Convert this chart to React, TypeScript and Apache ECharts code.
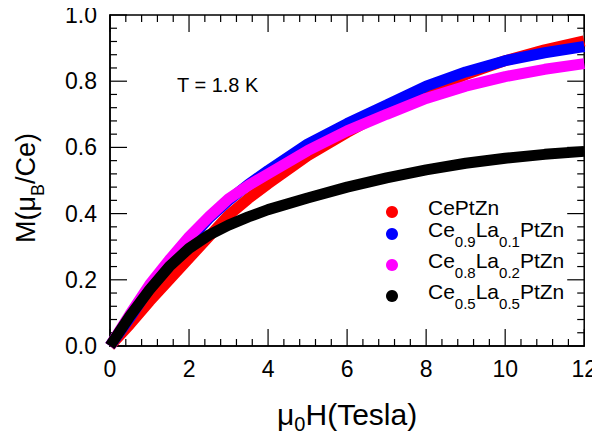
import React, { useEffect, useRef } from "react";
import * as echarts from "echarts";

// Applied field (T) at which each magnetisation value is taken
const fieldT = [0, 0.5, 1, 1.5, 2, 2.5, 3, 3.5, 4, 5, 6, 7, 8, 9, 10, 11, 12];

// Magnetisation M (μB/Ce) at T = 1.8 K
const mCePtZn = [0, 0.065, 0.135, 0.2, 0.265, 0.33, 0.395, 0.445, 0.49, 0.575, 0.645, 0.71, 0.77, 0.82, 0.862, 0.895, 0.922];
const mLa01 = [0, 0.085, 0.175, 0.25, 0.32, 0.385, 0.44, 0.488, 0.53, 0.61, 0.672, 0.728, 0.785, 0.828, 0.862, 0.886, 0.905];
const mLa02 = [0, 0.095, 0.185, 0.26, 0.33, 0.39, 0.445, 0.485, 0.52, 0.59, 0.65, 0.7, 0.748, 0.785, 0.814, 0.836, 0.853];
const mLa05 = [0, 0.09, 0.17, 0.24, 0.295, 0.335, 0.365, 0.39, 0.412, 0.447, 0.48, 0.508, 0.532, 0.552, 0.567, 0.579, 0.588];

const seriesNames = ["CePtZn", "Ce0.9La0.1PtZn", "Ce0.8La0.2PtZn", "Ce0.5La0.5PtZn"];
const seriesColors = ["#000000", "#ff0000", "#0000ff", "#ff00ff"];
const seriesValues = [mCePtZn, mLa01, mLa02, mLa05];

// Axis ranges and major tick values; each major interval holds 4 minor ticks
const xMajorTicks = [0, 2, 4, 6, 8, 10, 12];
const yMajorTicks = [0, 0.2, 0.4, 0.6, 0.8, 1.0];
const MINOR_DIVISIONS = 5;

// Legend labels with subscripted stoichiometry
const legendLabels: Record<string, string> = {
  "CePtZn": "{g|}{n|CePtZn}",
  "Ce0.9La0.1PtZn": "{g|}{n|Ce}{s|0.9}{n|La}{s|0.1}{n|PtZn}",
  "Ce0.8La0.2PtZn": "{g|}{n|Ce}{s|0.8}{n|La}{s|0.2}{n|PtZn}",
  "Ce0.5La0.5PtZn": "{g|}{n|Ce}{s|0.5}{n|La}{s|0.5}{n|PtZn}",
};

const FONT = "Liberation Sans, Arial, Helvetica, sans-serif";
const MAJOR_LEN = 17;
const MINOR_LEN = 7;

// Tick marks for all four frame sides: [isYAxis, value, lengthPx]
function tickItems(majors: number[], isY: number): number[][] {
  const items: number[][] = [];
  majors.forEach((v, i) => {
    items.push([isY, v, MAJOR_LEN]);
    if (i < majors.length - 1) {
      const step = (majors[i + 1] - v) / MINOR_DIVISIONS;
      for (let k = 1; k < MINOR_DIVISIONS; k++) items.push([isY, v + k * step, MINOR_LEN]);
    }
  });
  return items;
}

export default function App() {
  const ref = useRef<HTMLDivElement>(null);

  useEffect(() => {
    if (!ref.current) return;
    const chart = echarts.init(ref.current, undefined, { renderer: "svg" });

    const xMin = xMajorTicks[0];
    const xMax = xMajorTicks[xMajorTicks.length - 1];
    const yMin = yMajorTicks[0];
    const yMax = yMajorTicks[yMajorTicks.length - 1];

    const tickStyle = { stroke: "#000", lineWidth: 1.2 };
    const yTitle = { fill: "#000", fontFamily: FONT, verticalAlign: "middle", align: "left" };

    chart.setOption({
      animation: false,
      backgroundColor: "#fff",
      color: seriesColors,
      textStyle: { fontFamily: FONT },
      grid: {
        left: 110, right: 13, top: 15, bottom: 90,
        show: true, borderColor: "#000", borderWidth: 1.5, backgroundColor: "transparent",
      },
      xAxis: {
        type: "value",
        min: xMin,
        max: xMax,
        interval: 2,
        axisLine: { show: true, onZero: false, lineStyle: { color: "#000", width: 1.5 } },
        axisTick: { show: false },
        minorTick: { show: false },
        splitLine: { show: false },
        axisLabel: { color: "#000", fontSize: 23, margin: 11 },
        name: "{a|μ}{s|0}{a|H(Tesla)}",
        nameLocation: "middle",
        nameGap: 53,
        nameTextStyle: {
          rich: {
            a: { fontSize: 30, color: "#000", lineHeight: 35, verticalAlign: "top" },
            s: { fontSize: 20, color: "#000", verticalAlign: "bottom" },
          },
        },
      },
      yAxis: {
        type: "value",
        min: yMin,
        max: yMax,
        interval: 0.2,
        axisLine: { show: true, onZero: false, lineStyle: { color: "#000", width: 1.5 } },
        axisTick: { show: false },
        minorTick: { show: false },
        splitLine: { show: false },
        axisLabel: { color: "#000", fontSize: 23, margin: 13, formatter: (v: number) => v.toFixed(1) },
      },
      legend: {
        orient: "vertical",
        left: 386,
        top: 197,
        padding: 0,
        itemGap: 1,
        itemWidth: 12,
        itemHeight: 12,
        icon: "circle",
        data: seriesNames,
        formatter: (name: string) => legendLabels[name],
        textStyle: {
          rich: {
            g: { width: 25, height: 30 },
            n: { fontSize: 21, color: "#000", lineHeight: 22, verticalAlign: "top" },
            s: { fontSize: 15, color: "#000", lineHeight: 18, verticalAlign: "bottom" },
          },
        },
      },
      graphic: [
        {
          type: "text",
          left: 177,
          top: 75,
          style: { text: "T = 1.8 K", fontSize: 20, fontFamily: FONT, fill: "#000" },
        },
        {
          // vertical axis title M(μB/Ce), reading bottom to top
          type: "group",
          x: 26,
          y: 243,
          rotation: Math.PI / 2,
          children: [
            { type: "text", x: 0, y: 0, style: { ...yTitle, text: "M(μ", fontSize: 27 } },
            { type: "text", x: 47, y: 12, style: { ...yTitle, text: "B", fontSize: 18 } },
            { type: "text", x: 59, y: 0, style: { ...yTitle, text: "/Ce)", fontSize: 27 } },
          ],
        },
      ],
      series: [
        {
          // inward major/minor ticks on the bottom/top and left/right frame sides
          type: "custom",
          silent: true,
          clip: false,
          data: [...tickItems(xMajorTicks, 0), ...tickItems(yMajorTicks, 1)],
          renderItem: (_params: any, api: any) => {
            const isY = api.value(0);
            const v = api.value(1);
            const len = api.value(2);
            if (!isY) {
              const b = api.coord([v, yMin]);
              const t = api.coord([v, yMax]);
              return {
                type: "group",
                children: [
                  { type: "line", shape: { x1: b[0], y1: b[1], x2: b[0], y2: b[1] - len }, style: tickStyle },
                  { type: "line", shape: { x1: t[0], y1: t[1], x2: t[0], y2: t[1] + len }, style: tickStyle },
                ],
              };
            }
            const l = api.coord([xMin, v]);
            const r = api.coord([xMax, v]);
            return {
              type: "group",
              children: [
                { type: "line", shape: { x1: l[0], y1: l[1], x2: l[0] + len, y2: l[1] }, style: tickStyle },
                { type: "line", shape: { x1: r[0], y1: r[1], x2: r[0] - len, y2: r[1] }, style: tickStyle },
              ],
            };
          },
        },
        ...seriesNames.map((name, i) => ({
          name,
          type: "line",
          data: fieldT.map((h, j) => [h, seriesValues[i][j]]),
          showSymbol: false,
          lineStyle: { width: 11 },
        })),
      ],
    });

    return () => chart.dispose();
  }, []);

  return <div ref={ref} style={{ width: 600, height: 439, marginLeft: -8, marginTop: -8 }} />;
}
